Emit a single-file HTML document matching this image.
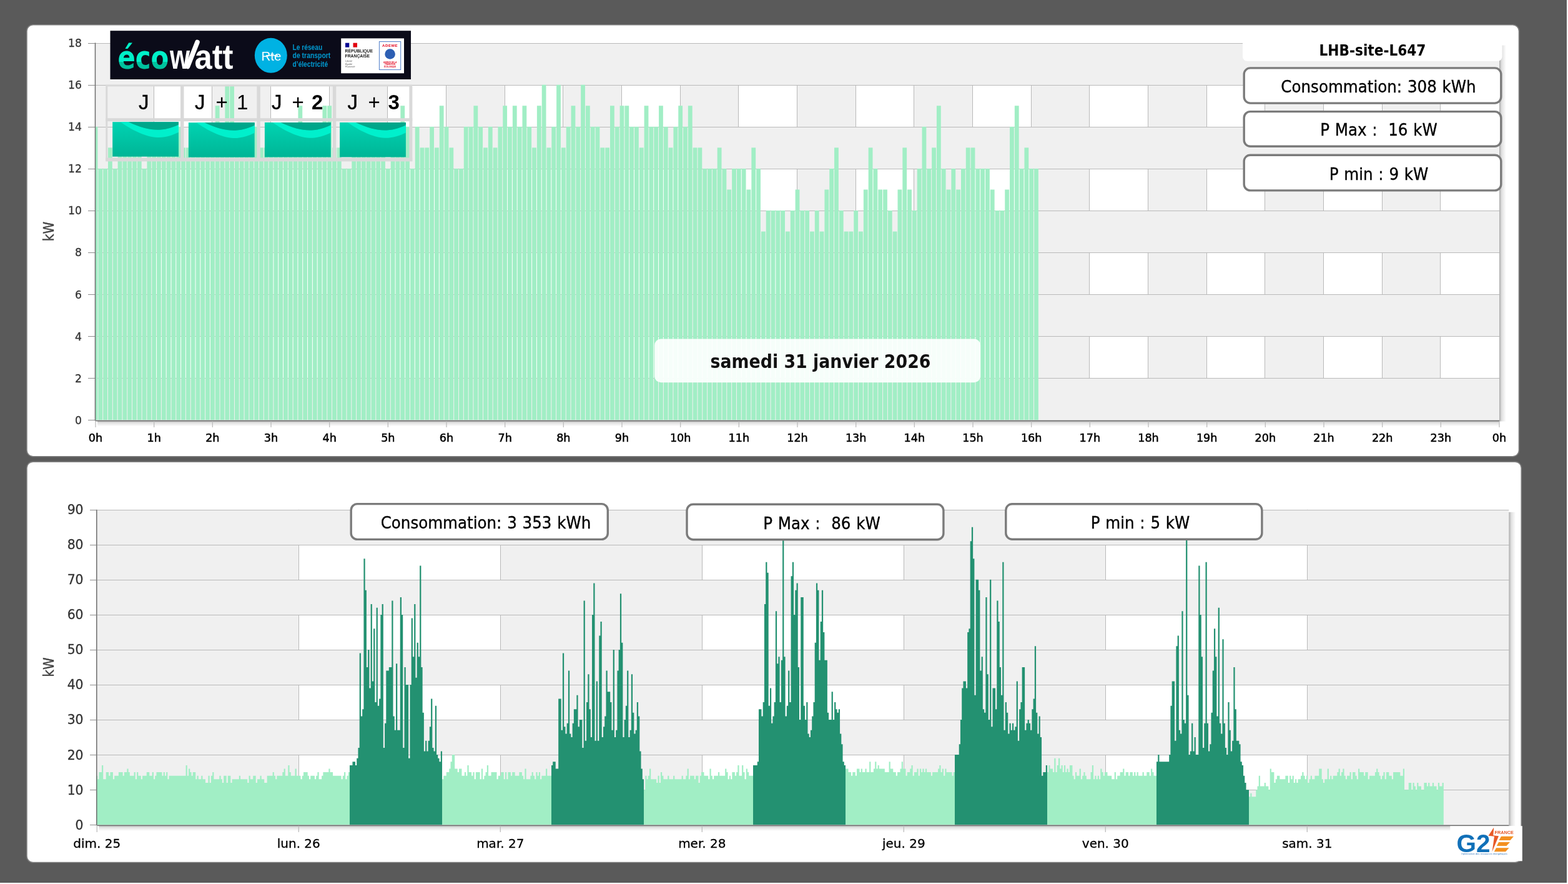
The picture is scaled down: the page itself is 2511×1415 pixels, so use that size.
<!DOCTYPE html>
<html lang="fr"><head><meta charset="utf-8"><title>Consommation LHB-site-L647</title>
<style>html,body{margin:0;padding:0;background:#fff;}body{width:2511px;height:1415px;overflow:hidden;position:relative;}</style>
</head><body>
<svg width="2511" height="1415" viewBox="0 0 2511 1415" style="position:absolute;left:0;top:0"><defs>
<linearGradient id="sig" x1="0" y1="0" x2="0" y2="1"><stop offset="0" stop-color="#00d3b2"/><stop offset="1" stop-color="#00b596"/></linearGradient>
<linearGradient id="eco" x1="0" y1="0" x2="0" y2="1"><stop offset="0.62" stop-color="#00f0c8"/><stop offset="0.62" stop-color="#00c29e"/></linearGradient>
<linearGradient id="shR" x1="0" y1="0" x2="1" y2="0"><stop offset="0" stop-color="#000" stop-opacity="0.33"/><stop offset="0.35" stop-color="#000" stop-opacity="0.12"/><stop offset="1" stop-color="#000" stop-opacity="0"/></linearGradient>
<linearGradient id="shB" x1="0" y1="0" x2="0" y2="1"><stop offset="0" stop-color="#000" stop-opacity="0.33"/><stop offset="0.35" stop-color="#000" stop-opacity="0.12"/><stop offset="1" stop-color="#000" stop-opacity="0"/></linearGradient>
<clipPath id="tclip"><rect x="153" y="68.6" width="2248" height="603.9"/></clipPath>
</defs><rect x="0" y="0" width="2511" height="1415" fill="#ffffff"/><rect x="0" y="0" width="2509" height="1413" fill="#5a5a5a"/><rect x="42.9" y="39.7" width="2389.6" height="691.0" rx="10" fill="#ffffff" stroke="#7d7d7d" stroke-width="1.6"/><rect x="42.9" y="739.1" width="2393.4" height="641.4" rx="10" fill="#ffffff" stroke="#7d7d7d" stroke-width="1.6"/><g shape-rendering="crispEdges"><rect x="153" y="68.6" width="93.67" height="603.9" fill="#f0f0f0"/><rect x="340.33" y="68.6" width="93.67" height="603.9" fill="#f0f0f0"/><rect x="527.67" y="68.6" width="93.67" height="603.9" fill="#f0f0f0"/><rect x="715" y="68.6" width="93.67" height="603.9" fill="#f0f0f0"/><rect x="902.33" y="68.6" width="93.67" height="603.9" fill="#f0f0f0"/><rect x="1089.67" y="68.6" width="93.67" height="603.9" fill="#f0f0f0"/><rect x="1277" y="68.6" width="93.67" height="603.9" fill="#f0f0f0"/><rect x="1464.33" y="68.6" width="93.67" height="603.9" fill="#f0f0f0"/><rect x="1651.67" y="68.6" width="93.67" height="603.9" fill="#f0f0f0"/><rect x="1839" y="68.6" width="93.67" height="603.9" fill="#f0f0f0"/><rect x="2026.33" y="68.6" width="93.67" height="603.9" fill="#f0f0f0"/><rect x="2213.67" y="68.6" width="93.67" height="603.9" fill="#f0f0f0"/></g><g stroke="#b9b9b9" stroke-width="1"><line x1="246.5" y1="69.6" x2="246.5" y2="672.5"/><line x1="339.5" y1="69.6" x2="339.5" y2="672.5"/><line x1="433.5" y1="69.6" x2="433.5" y2="672.5"/><line x1="527.5" y1="69.6" x2="527.5" y2="672.5"/><line x1="620.5" y1="69.6" x2="620.5" y2="672.5"/><line x1="714.5" y1="69.6" x2="714.5" y2="672.5"/><line x1="808.5" y1="69.6" x2="808.5" y2="672.5"/><line x1="901.5" y1="69.6" x2="901.5" y2="672.5"/><line x1="995.5" y1="69.6" x2="995.5" y2="672.5"/><line x1="1089.5" y1="69.6" x2="1089.5" y2="672.5"/><line x1="1182.5" y1="69.6" x2="1182.5" y2="672.5"/><line x1="1276.5" y1="69.6" x2="1276.5" y2="672.5"/><line x1="1370.5" y1="69.6" x2="1370.5" y2="672.5"/><line x1="1463.5" y1="69.6" x2="1463.5" y2="672.5"/><line x1="1557.5" y1="69.6" x2="1557.5" y2="672.5"/><line x1="1651.5" y1="69.6" x2="1651.5" y2="672.5"/><line x1="1744.5" y1="69.6" x2="1744.5" y2="672.5"/><line x1="1838.5" y1="69.6" x2="1838.5" y2="672.5"/><line x1="1932.5" y1="69.6" x2="1932.5" y2="672.5"/><line x1="2025.5" y1="69.6" x2="2025.5" y2="672.5"/><line x1="2119.5" y1="69.6" x2="2119.5" y2="672.5"/><line x1="2213.5" y1="69.6" x2="2213.5" y2="672.5"/><line x1="2306.5" y1="69.6" x2="2306.5" y2="672.5"/></g><g shape-rendering="crispEdges"><rect x="153" y="605.4" width="2248" height="67.1" fill="#f0f0f0"/><rect x="153" y="471.2" width="2248" height="67.1" fill="#f0f0f0"/><rect x="153" y="337" width="2248" height="67.1" fill="#f0f0f0"/><rect x="153" y="202.8" width="2248" height="67.1" fill="#f0f0f0"/><rect x="153" y="68.6" width="2248" height="67.1" fill="#f0f0f0"/></g><g stroke="#b9b9b9" stroke-width="1"><line x1="153" y1="605.5" x2="2401" y2="605.5"/><line x1="153" y1="538.5" x2="2401" y2="538.5"/><line x1="153" y1="471.5" x2="2401" y2="471.5"/><line x1="153" y1="404.5" x2="2401" y2="404.5"/><line x1="153" y1="337.5" x2="2401" y2="337.5"/><line x1="153" y1="270.5" x2="2401" y2="270.5"/><line x1="153" y1="203.5" x2="2401" y2="203.5"/><line x1="153" y1="136.5" x2="2401" y2="136.5"/><line x1="153" y1="69.5" x2="2401" y2="69.5"/></g><g fill="#a1eec5" clip-path="url(#tclip)"><rect x="149.6" y="202.8" width="6.81" height="469.7"/><rect x="157.4" y="269.9" width="6.81" height="402.6"/><rect x="165.21" y="269.9" width="6.81" height="402.6"/><rect x="173.01" y="236.35" width="6.81" height="436.15"/><rect x="180.82" y="269.9" width="6.81" height="402.6"/><rect x="188.62" y="236.35" width="6.81" height="436.15"/><rect x="196.43" y="236.35" width="6.81" height="436.15"/><rect x="204.24" y="236.35" width="6.81" height="436.15"/><rect x="212.04" y="236.35" width="6.81" height="436.15"/><rect x="219.85" y="236.35" width="6.81" height="436.15"/><rect x="227.65" y="269.9" width="6.81" height="402.6"/><rect x="235.46" y="236.35" width="6.81" height="436.15"/><rect x="243.26" y="236.35" width="6.81" height="436.15"/><rect x="251.07" y="202.8" width="6.81" height="469.7"/><rect x="258.88" y="236.35" width="6.81" height="436.15"/><rect x="266.68" y="236.35" width="6.81" height="436.15"/><rect x="274.49" y="236.35" width="6.81" height="436.15"/><rect x="282.29" y="202.8" width="6.81" height="469.7"/><rect x="290.1" y="236.35" width="6.81" height="436.15"/><rect x="297.9" y="236.35" width="6.81" height="436.15"/><rect x="305.71" y="236.35" width="6.81" height="436.15"/><rect x="313.51" y="236.35" width="6.81" height="436.15"/><rect x="321.32" y="236.35" width="6.81" height="436.15"/><rect x="329.13" y="236.35" width="6.81" height="436.15"/><rect x="336.93" y="236.35" width="6.81" height="436.15"/><rect x="344.74" y="169.25" width="6.81" height="503.25"/><rect x="352.54" y="202.8" width="6.81" height="469.7"/><rect x="360.35" y="135.7" width="6.81" height="536.8"/><rect x="368.15" y="135.7" width="6.81" height="536.8"/><rect x="375.96" y="236.35" width="6.81" height="436.15"/><rect x="383.76" y="202.8" width="6.81" height="469.7"/><rect x="391.57" y="236.35" width="6.81" height="436.15"/><rect x="399.38" y="236.35" width="6.81" height="436.15"/><rect x="407.18" y="202.8" width="6.81" height="469.7"/><rect x="414.99" y="236.35" width="6.81" height="436.15"/><rect x="422.79" y="236.35" width="6.81" height="436.15"/><rect x="430.6" y="236.35" width="6.81" height="436.15"/><rect x="438.4" y="202.8" width="6.81" height="469.7"/><rect x="446.21" y="236.35" width="6.81" height="436.15"/><rect x="454.01" y="236.35" width="6.81" height="436.15"/><rect x="461.82" y="236.35" width="6.81" height="436.15"/><rect x="469.63" y="236.35" width="6.81" height="436.15"/><rect x="477.43" y="169.25" width="6.81" height="503.25"/><rect x="485.24" y="236.35" width="6.81" height="436.15"/><rect x="493.04" y="236.35" width="6.81" height="436.15"/><rect x="500.85" y="236.35" width="6.81" height="436.15"/><rect x="508.65" y="236.35" width="6.81" height="436.15"/><rect x="516.46" y="169.25" width="6.81" height="503.25"/><rect x="524.26" y="169.25" width="6.81" height="503.25"/><rect x="532.07" y="236.35" width="6.81" height="436.15"/><rect x="539.88" y="236.35" width="6.81" height="436.15"/><rect x="547.68" y="269.9" width="6.81" height="402.6"/><rect x="555.49" y="269.9" width="6.81" height="402.6"/><rect x="563.29" y="236.35" width="6.81" height="436.15"/><rect x="571.1" y="236.35" width="6.81" height="436.15"/><rect x="578.9" y="236.35" width="6.81" height="436.15"/><rect x="586.71" y="236.35" width="6.81" height="436.15"/><rect x="594.51" y="236.35" width="6.81" height="436.15"/><rect x="602.32" y="236.35" width="6.81" height="436.15"/><rect x="610.12" y="236.35" width="6.81" height="436.15"/><rect x="617.93" y="269.9" width="6.81" height="402.6"/><rect x="625.74" y="236.35" width="6.81" height="436.15"/><rect x="633.54" y="236.35" width="6.81" height="436.15"/><rect x="641.35" y="169.25" width="6.81" height="503.25"/><rect x="649.15" y="202.8" width="6.81" height="469.7"/><rect x="656.96" y="269.9" width="6.81" height="402.6"/><rect x="664.76" y="202.8" width="6.81" height="469.7"/><rect x="672.57" y="236.35" width="6.81" height="436.15"/><rect x="680.38" y="236.35" width="6.81" height="436.15"/><rect x="688.18" y="202.8" width="6.81" height="469.7"/><rect x="695.99" y="236.35" width="6.81" height="436.15"/><rect x="703.79" y="169.25" width="6.81" height="503.25"/><rect x="711.6" y="202.8" width="6.81" height="469.7"/><rect x="719.4" y="236.35" width="6.81" height="436.15"/><rect x="727.21" y="269.9" width="6.81" height="402.6"/><rect x="735.01" y="269.9" width="6.81" height="402.6"/><rect x="742.82" y="202.8" width="6.81" height="469.7"/><rect x="750.62" y="202.8" width="6.81" height="469.7"/><rect x="758.43" y="169.25" width="6.81" height="503.25"/><rect x="766.24" y="202.8" width="6.81" height="469.7"/><rect x="774.04" y="236.35" width="6.81" height="436.15"/><rect x="781.85" y="202.8" width="6.81" height="469.7"/><rect x="789.65" y="236.35" width="6.81" height="436.15"/><rect x="797.46" y="202.8" width="6.81" height="469.7"/><rect x="805.26" y="169.25" width="6.81" height="503.25"/><rect x="813.07" y="202.8" width="6.81" height="469.7"/><rect x="820.88" y="169.25" width="6.81" height="503.25"/><rect x="828.68" y="202.8" width="6.81" height="469.7"/><rect x="836.49" y="169.25" width="6.81" height="503.25"/><rect x="844.29" y="202.8" width="6.81" height="469.7"/><rect x="852.1" y="236.35" width="6.81" height="436.15"/><rect x="859.9" y="169.25" width="6.81" height="503.25"/><rect x="867.71" y="135.7" width="6.81" height="536.8"/><rect x="875.51" y="236.35" width="6.81" height="436.15"/><rect x="883.32" y="202.8" width="6.81" height="469.7"/><rect x="891.12" y="135.7" width="6.81" height="536.8"/><rect x="898.93" y="236.35" width="6.81" height="436.15"/><rect x="906.74" y="202.8" width="6.81" height="469.7"/><rect x="914.54" y="169.25" width="6.81" height="503.25"/><rect x="922.35" y="202.8" width="6.81" height="469.7"/><rect x="930.15" y="135.7" width="6.81" height="536.8"/><rect x="937.96" y="169.25" width="6.81" height="503.25"/><rect x="945.76" y="202.8" width="6.81" height="469.7"/><rect x="953.57" y="202.8" width="6.81" height="469.7"/><rect x="961.38" y="236.35" width="6.81" height="436.15"/><rect x="969.18" y="236.35" width="6.81" height="436.15"/><rect x="976.99" y="169.25" width="6.81" height="503.25"/><rect x="984.79" y="202.8" width="6.81" height="469.7"/><rect x="992.6" y="169.25" width="6.81" height="503.25"/><rect x="1000.4" y="169.25" width="6.81" height="503.25"/><rect x="1008.21" y="202.8" width="6.81" height="469.7"/><rect x="1016.01" y="202.8" width="6.81" height="469.7"/><rect x="1023.82" y="236.35" width="6.81" height="436.15"/><rect x="1031.62" y="169.25" width="6.81" height="503.25"/><rect x="1039.43" y="202.8" width="6.81" height="469.7"/><rect x="1047.24" y="202.8" width="6.81" height="469.7"/><rect x="1055.04" y="169.25" width="6.81" height="503.25"/><rect x="1062.85" y="202.8" width="6.81" height="469.7"/><rect x="1070.65" y="236.35" width="6.81" height="436.15"/><rect x="1078.46" y="202.8" width="6.81" height="469.7"/><rect x="1086.26" y="169.25" width="6.81" height="503.25"/><rect x="1094.07" y="202.8" width="6.81" height="469.7"/><rect x="1101.88" y="169.25" width="6.81" height="503.25"/><rect x="1109.68" y="236.35" width="6.81" height="436.15"/><rect x="1117.49" y="236.35" width="6.81" height="436.15"/><rect x="1125.29" y="269.9" width="6.81" height="402.6"/><rect x="1133.1" y="269.9" width="6.81" height="402.6"/><rect x="1140.9" y="269.9" width="6.81" height="402.6"/><rect x="1148.71" y="236.35" width="6.81" height="436.15"/><rect x="1156.51" y="269.9" width="6.81" height="402.6"/><rect x="1164.32" y="303.45" width="6.81" height="369.05"/><rect x="1172.12" y="269.9" width="6.81" height="402.6"/><rect x="1179.93" y="269.9" width="6.81" height="402.6"/><rect x="1187.74" y="269.9" width="6.81" height="402.6"/><rect x="1195.54" y="303.45" width="6.81" height="369.05"/><rect x="1203.35" y="236.35" width="6.81" height="436.15"/><rect x="1211.15" y="269.9" width="6.81" height="402.6"/><rect x="1218.96" y="370.55" width="6.81" height="301.95"/><rect x="1226.76" y="337" width="6.81" height="335.5"/><rect x="1234.57" y="337" width="6.81" height="335.5"/><rect x="1242.38" y="337" width="6.81" height="335.5"/><rect x="1250.18" y="337" width="6.81" height="335.5"/><rect x="1257.99" y="370.55" width="6.81" height="301.95"/><rect x="1265.79" y="337" width="6.81" height="335.5"/><rect x="1273.6" y="303.45" width="6.81" height="369.05"/><rect x="1281.4" y="337" width="6.81" height="335.5"/><rect x="1289.21" y="337" width="6.81" height="335.5"/><rect x="1297.01" y="370.55" width="6.81" height="301.95"/><rect x="1304.82" y="337" width="6.81" height="335.5"/><rect x="1312.62" y="370.55" width="6.81" height="301.95"/><rect x="1320.43" y="303.45" width="6.81" height="369.05"/><rect x="1328.24" y="269.9" width="6.81" height="402.6"/><rect x="1336.04" y="236.35" width="6.81" height="436.15"/><rect x="1343.85" y="337" width="6.81" height="335.5"/><rect x="1351.65" y="370.55" width="6.81" height="301.95"/><rect x="1359.46" y="370.55" width="6.81" height="301.95"/><rect x="1367.26" y="337" width="6.81" height="335.5"/><rect x="1375.07" y="370.55" width="6.81" height="301.95"/><rect x="1382.88" y="303.45" width="6.81" height="369.05"/><rect x="1390.68" y="236.35" width="6.81" height="436.15"/><rect x="1398.49" y="269.9" width="6.81" height="402.6"/><rect x="1406.29" y="303.45" width="6.81" height="369.05"/><rect x="1414.1" y="303.45" width="6.81" height="369.05"/><rect x="1421.9" y="337" width="6.81" height="335.5"/><rect x="1429.71" y="370.55" width="6.81" height="301.95"/><rect x="1437.51" y="303.45" width="6.81" height="369.05"/><rect x="1445.32" y="236.35" width="6.81" height="436.15"/><rect x="1453.12" y="303.45" width="6.81" height="369.05"/><rect x="1460.93" y="337" width="6.81" height="335.5"/><rect x="1468.74" y="269.9" width="6.81" height="402.6"/><rect x="1476.54" y="202.8" width="6.81" height="469.7"/><rect x="1484.35" y="269.9" width="6.81" height="402.6"/><rect x="1492.15" y="236.35" width="6.81" height="436.15"/><rect x="1499.96" y="169.25" width="6.81" height="503.25"/><rect x="1507.76" y="269.9" width="6.81" height="402.6"/><rect x="1515.57" y="303.45" width="6.81" height="369.05"/><rect x="1523.38" y="269.9" width="6.81" height="402.6"/><rect x="1531.18" y="303.45" width="6.81" height="369.05"/><rect x="1538.99" y="269.9" width="6.81" height="402.6"/><rect x="1546.79" y="236.35" width="6.81" height="436.15"/><rect x="1554.6" y="236.35" width="6.81" height="436.15"/><rect x="1562.4" y="269.9" width="6.81" height="402.6"/><rect x="1570.21" y="269.9" width="6.81" height="402.6"/><rect x="1578.01" y="269.9" width="6.81" height="402.6"/><rect x="1585.82" y="303.45" width="6.81" height="369.05"/><rect x="1593.62" y="337" width="6.81" height="335.5"/><rect x="1601.43" y="337" width="6.81" height="335.5"/><rect x="1609.24" y="303.45" width="6.81" height="369.05"/><rect x="1617.04" y="202.8" width="6.81" height="469.7"/><rect x="1624.85" y="169.25" width="6.81" height="503.25"/><rect x="1632.65" y="269.9" width="6.81" height="402.6"/><rect x="1640.46" y="236.35" width="6.81" height="436.15"/><rect x="1648.26" y="269.9" width="6.81" height="402.6"/><rect x="1656.07" y="269.9" width="6.81" height="402.6"/></g><rect x="2401" y="72.6" width="11" height="601.9" fill="url(#shR)"/><rect x="156" y="673.5" width="2245" height="9" fill="url(#shB)"/><line x1="152.5" y1="68.6" x2="152.5" y2="673.5" stroke="#6b6b6b" stroke-width="1.5"/><line x1="153" y1="673.5" x2="2401" y2="673.5" stroke="#6b6b6b" stroke-width="1.5"/><g stroke="#bdbdbd" stroke-width="1.3"><line x1="153" y1="674" x2="153" y2="684"/><line x1="246.67" y1="674" x2="246.67" y2="684"/><line x1="340.33" y1="674" x2="340.33" y2="684"/><line x1="434" y1="674" x2="434" y2="684"/><line x1="527.67" y1="674" x2="527.67" y2="684"/><line x1="621.33" y1="674" x2="621.33" y2="684"/><line x1="715" y1="674" x2="715" y2="684"/><line x1="808.67" y1="674" x2="808.67" y2="684"/><line x1="902.33" y1="674" x2="902.33" y2="684"/><line x1="996" y1="674" x2="996" y2="684"/><line x1="1089.67" y1="674" x2="1089.67" y2="684"/><line x1="1183.33" y1="674" x2="1183.33" y2="684"/><line x1="1277" y1="674" x2="1277" y2="684"/><line x1="1370.67" y1="674" x2="1370.67" y2="684"/><line x1="1464.33" y1="674" x2="1464.33" y2="684"/><line x1="1558" y1="674" x2="1558" y2="684"/><line x1="1651.67" y1="674" x2="1651.67" y2="684"/><line x1="1745.33" y1="674" x2="1745.33" y2="684"/><line x1="1839" y1="674" x2="1839" y2="684"/><line x1="1932.67" y1="674" x2="1932.67" y2="684"/><line x1="2026.33" y1="674" x2="2026.33" y2="684"/><line x1="2120" y1="674" x2="2120" y2="684"/><line x1="2213.67" y1="674" x2="2213.67" y2="684"/><line x1="2307.33" y1="674" x2="2307.33" y2="684"/><line x1="2401" y1="674" x2="2401" y2="684"/></g><g stroke="#8c8c8c" stroke-width="1"><line x1="141" y1="672.5" x2="152" y2="672.5"/><line x1="141" y1="605.5" x2="152" y2="605.5"/><line x1="141" y1="538.5" x2="152" y2="538.5"/><line x1="141" y1="471.5" x2="152" y2="471.5"/><line x1="141" y1="404.5" x2="152" y2="404.5"/><line x1="141" y1="337.5" x2="152" y2="337.5"/><line x1="141" y1="270.5" x2="152" y2="270.5"/><line x1="141" y1="203.5" x2="152" y2="203.5"/><line x1="141" y1="136.5" x2="152" y2="136.5"/><line x1="141" y1="69.5" x2="152" y2="69.5"/></g><g font-family="DejaVu Sans, sans-serif" font-size="17.3" fill="#333" stroke="#333" stroke-width="0.3" text-anchor="end"><text x="131" y="678.8">0</text><text x="131" y="611.7">2</text><text x="131" y="544.6">4</text><text x="131" y="477.5">6</text><text x="131" y="410.4">8</text><text x="131" y="343.3">10</text><text x="131" y="276.2">12</text><text x="131" y="209.1">14</text><text x="131" y="142">16</text><text x="131" y="74.9">18</text></g><g font-family="DejaVu Sans, sans-serif" font-size="17.6" fill="#000" stroke="#000" stroke-width="0.55" text-anchor="middle"><text x="153" y="707">0h</text><text x="246.67" y="707">1h</text><text x="340.33" y="707">2h</text><text x="434" y="707">3h</text><text x="527.67" y="707">4h</text><text x="621.33" y="707">5h</text><text x="715" y="707">6h</text><text x="808.67" y="707">7h</text><text x="902.33" y="707">8h</text><text x="996" y="707">9h</text><text x="1089.67" y="707">10h</text><text x="1183.33" y="707">11h</text><text x="1277" y="707">12h</text><text x="1370.67" y="707">13h</text><text x="1464.33" y="707">14h</text><text x="1558" y="707">15h</text><text x="1651.67" y="707">16h</text><text x="1745.33" y="707">17h</text><text x="1839" y="707">18h</text><text x="1932.67" y="707">19h</text><text x="2026.33" y="707">20h</text><text x="2120" y="707">21h</text><text x="2213.67" y="707">22h</text><text x="2307.33" y="707">23h</text><text x="2401" y="707">0h</text></g><text transform="translate(86,370.5) rotate(-90)" font-family="DejaVu Sans, sans-serif" font-stretch="condensed" font-size="22.1" fill="#444" stroke="#444" stroke-width="0.4" text-anchor="middle" textLength="31.2" lengthAdjust="spacingAndGlyphs">kW</text><g shape-rendering="crispEdges"><rect x="155.3" y="815.75" width="323" height="504.45" fill="#f0f0f0"/><rect x="801.3" y="815.75" width="323" height="504.45" fill="#f0f0f0"/><rect x="1447.3" y="815.75" width="323" height="504.45" fill="#f0f0f0"/><rect x="2093.3" y="815.75" width="323" height="504.45" fill="#f0f0f0"/></g><g stroke="#b9b9b9" stroke-width="1"><line x1="478.5" y1="815.75" x2="478.5" y2="1320.2"/><line x1="801.5" y1="815.75" x2="801.5" y2="1320.2"/><line x1="1124.5" y1="815.75" x2="1124.5" y2="1320.2"/><line x1="1447.5" y1="815.75" x2="1447.5" y2="1320.2"/><line x1="1770.5" y1="815.75" x2="1770.5" y2="1320.2"/><line x1="2093.5" y1="815.75" x2="2093.5" y2="1320.2"/></g><g shape-rendering="crispEdges"><rect x="155.3" y="1264.15" width="2261" height="56.05" fill="#f0f0f0"/><rect x="155.3" y="1152.05" width="2261" height="56.05" fill="#f0f0f0"/><rect x="155.3" y="1039.95" width="2261" height="56.05" fill="#f0f0f0"/><rect x="155.3" y="927.85" width="2261" height="56.05" fill="#f0f0f0"/><rect x="155.3" y="815.75" width="2261" height="56.05" fill="#f0f0f0"/></g><g stroke="#b9b9b9" stroke-width="1"><line x1="155.3" y1="1264.5" x2="2416.3" y2="1264.5"/><line x1="155.3" y1="1208.5" x2="2416.3" y2="1208.5"/><line x1="155.3" y1="1152.5" x2="2416.3" y2="1152.5"/><line x1="155.3" y1="1096.5" x2="2416.3" y2="1096.5"/><line x1="155.3" y1="1040.5" x2="2416.3" y2="1040.5"/><line x1="155.3" y1="984.5" x2="2416.3" y2="984.5"/><line x1="155.3" y1="928.5" x2="2416.3" y2="928.5"/><line x1="155.3" y1="872.5" x2="2416.3" y2="872.5"/><line x1="155.3" y1="816.5" x2="2416.3" y2="816.5"/></g><path d="M154,1320.2V1241.73H156.24V1247.34H158.49V1236.12H160.73V1236.12H162.97V1224.91H165.22V1247.34H167.46V1247.34H169.7V1236.12H171.94V1236.12H174.19V1241.73H176.43V1236.12H178.67V1236.12H180.92V1247.34H183.16V1241.73H185.4V1241.73H187.65V1241.73H189.89V1236.12H192.13V1236.12H194.38V1236.12H196.62V1241.73H198.86V1236.12H201.1V1236.12H203.35V1230.52H205.59V1236.12H207.83V1241.73H210.08V1241.73H212.32V1241.73H214.56V1236.12H216.81V1247.34H219.05V1236.12H221.29V1241.73H223.53V1241.73H225.78V1247.34H228.02V1241.73H230.26V1241.73H232.51V1241.73H234.75V1236.12H236.99V1236.12H239.24V1241.73H241.48V1241.73H243.72V1236.12H245.97V1247.34H248.21V1241.73H250.45V1236.12H252.69V1236.12H254.94V1236.12H257.18V1236.12H259.42V1241.73H261.67V1236.12H263.91V1241.73H266.15V1236.12H268.4V1247.34H270.64V1241.73H272.88V1241.73H275.12V1241.73H277.37V1241.73H279.61V1241.73H281.85V1241.73H284.1V1241.73H286.34V1241.73H288.58V1241.73H290.83V1241.73H293.07V1241.73H295.31V1241.73H297.56V1224.91H299.8V1241.73H302.04V1230.52H304.28V1236.12H306.53V1241.73H308.77V1236.12H311.01V1236.12H313.26V1247.34H315.5V1241.73H317.74V1247.34H319.99V1247.34H322.23V1241.73H324.47V1247.34H326.72V1247.34H328.96V1252.94H331.2V1252.94H333.44V1241.73H335.69V1252.94H337.93V1241.73H340.17V1236.12H342.42V1247.34H344.66V1247.34H346.9V1247.34H349.15V1247.34H351.39V1241.73H353.63V1247.34H355.88V1252.94H358.12V1241.73H360.36V1241.73H362.6V1252.94H364.85V1241.73H367.09V1241.73H369.33V1252.94H371.58V1247.34H373.82V1247.34H376.06V1247.34H378.31V1247.34H380.55V1247.34H382.79V1241.73H385.03V1247.34H387.28V1247.34H389.52V1247.34H391.76V1247.34H394.01V1247.34H396.25V1252.94H398.49V1241.73H400.74V1247.34H402.98V1247.34H405.22V1241.73H407.47V1241.73H409.71V1252.94H411.95V1247.34H414.19V1247.34H416.44V1241.73H418.68V1247.34H420.92V1247.34H423.17V1252.94H425.41V1252.94H427.65V1241.73H429.9V1241.73H432.14V1241.73H434.38V1241.73H436.62V1236.12H438.87V1241.73H441.11V1247.34H443.35V1241.73H445.6V1241.73H447.84V1241.73H450.08V1241.73H452.33V1236.12H454.57V1230.52H456.81V1241.73H459.06V1241.73H461.3V1224.91H463.54V1236.12H465.78V1241.73H468.03V1241.73H470.27V1241.73H472.51V1230.52H474.76V1241.73H477V1241.73H479.24V1241.73H481.49V1247.34H483.73V1241.73H485.97V1236.12H488.22V1236.12H490.46V1236.12H492.7V1241.73H494.94V1247.34H497.19V1241.73H499.43V1241.73H501.67V1241.73H503.92V1247.34H506.16V1241.73H508.4V1236.12H510.65V1247.34H512.89V1247.34H515.13V1241.73H517.38V1236.12H519.62V1236.12H521.86V1236.12H524.1V1236.12H526.35V1230.52H528.59V1236.12H530.83V1236.12H533.08V1241.73H535.32V1241.73H537.56V1241.73H539.81V1241.73H542.05V1241.73H544.29V1241.73H546.53V1247.34H548.78V1241.73H551.02V1236.12H553.26V1247.34H555.51V1241.73H557.75V1236.12H559.99V1320.2ZM708.03,1320.2V1247.34H710.28V1241.73H712.52V1241.73H714.76V1236.12H717.01V1236.12H719.25V1230.52H721.49V1219.31H723.74V1208.1H725.98V1208.1H728.22V1230.52H730.47V1230.52H732.71V1236.12H734.95V1230.52H737.19V1230.52H739.44V1241.73H741.68V1241.73H743.92V1236.12H746.17V1241.73H748.41V1224.91H750.65V1236.12H752.9V1236.12H755.14V1241.73H757.38V1236.12H759.62V1247.34H761.87V1236.12H764.11V1236.12H766.35V1236.12H768.6V1247.34H770.84V1230.52H773.08V1247.34H775.33V1241.73H777.57V1236.12H779.81V1224.91H782.06V1241.73H784.3V1241.73H786.54V1236.12H788.78V1236.12H791.03V1236.12H793.27V1236.12H795.51V1247.34H797.76V1241.73H800V1241.73H802.24V1236.12H804.49V1236.12H806.73V1247.34H808.97V1236.12H811.22V1247.34H813.46V1236.12H815.7V1236.12H817.94V1241.73H820.19V1236.12H822.43V1236.12H824.67V1241.73H826.92V1241.73H829.16V1241.73H831.4V1236.12H833.65V1236.12H835.89V1241.73H838.13V1247.34H840.37V1230.52H842.62V1247.34H844.86V1247.34H847.1V1247.34H849.35V1241.73H851.59V1236.12H853.83V1241.73H856.08V1247.34H858.32V1236.12H860.56V1241.73H862.81V1236.12H865.05V1247.34H867.29V1241.73H869.53V1241.73H871.78V1241.73H874.02V1230.52H876.26V1241.73H878.51V1241.73H880.75V1241.73H882.99V1320.2ZM1031.03,1320.2V1264.15H1033.28V1241.73H1035.52V1247.34H1037.76V1241.73H1040.01V1230.52H1042.25V1247.34H1044.49V1247.34H1046.74V1247.34H1048.98V1247.34H1051.22V1252.94H1053.47V1241.73H1055.71V1252.94H1057.95V1236.12H1060.19V1241.73H1062.44V1247.34H1064.68V1247.34H1066.92V1247.34H1069.17V1241.73H1071.41V1247.34H1073.65V1247.34H1075.9V1247.34H1078.14V1241.73H1080.38V1247.34H1082.62V1247.34H1084.87V1247.34H1087.11V1247.34H1089.35V1247.34H1091.6V1241.73H1093.84V1247.34H1096.08V1247.34H1098.33V1241.73H1100.57V1230.52H1102.81V1247.34H1105.06V1241.73H1107.3V1241.73H1109.54V1241.73H1111.78V1247.34H1114.03V1241.73H1116.27V1241.73H1118.51V1252.94H1120.76V1241.73H1123V1236.12H1125.24V1236.12H1127.49V1241.73H1129.73V1241.73H1131.97V1241.73H1134.22V1247.34H1136.46V1230.52H1138.7V1241.73H1140.94V1247.34H1143.19V1241.73H1145.43V1241.73H1147.67V1241.73H1149.92V1236.12H1152.16V1241.73H1154.4V1241.73H1156.65V1241.73H1158.89V1241.73H1161.13V1230.52H1163.38V1236.12H1165.62V1247.34H1167.86V1241.73H1170.1V1247.34H1172.35V1236.12H1174.59V1236.12H1176.83V1241.73H1179.08V1236.12H1181.32V1224.91H1183.56V1241.73H1185.81V1241.73H1188.05V1224.91H1190.29V1236.12H1192.53V1247.34H1194.78V1230.52H1197.02V1236.12H1199.26V1241.73H1201.51V1241.73H1203.75V1241.73H1205.99V1320.2ZM1354.03,1320.2V1230.52H1356.28V1230.52H1358.52V1236.12H1360.76V1236.12H1363.01V1241.73H1365.25V1236.12H1367.49V1236.12H1369.74V1241.73H1371.98V1230.52H1374.22V1230.52H1376.47V1236.12H1378.71V1230.52H1380.95V1236.12H1383.19V1236.12H1385.44V1230.52H1387.68V1236.12H1389.92V1236.12H1392.17V1219.31H1394.41V1236.12H1396.65V1236.12H1398.9V1230.52H1401.14V1219.31H1403.38V1230.52H1405.62V1224.91H1407.87V1230.52H1410.11V1230.52H1412.35V1230.52H1414.6V1230.52H1416.84V1236.12H1419.08V1236.12H1421.33V1236.12H1423.57V1219.31H1425.81V1230.52H1428.06V1230.52H1430.3V1236.12H1432.54V1236.12H1434.78V1241.73H1437.03V1236.12H1439.27V1236.12H1441.51V1230.52H1443.76V1219.31H1446V1230.52H1448.24V1230.52H1450.49V1241.73H1452.73V1236.12H1454.97V1236.12H1457.22V1230.52H1459.46V1224.91H1461.7V1241.73H1463.94V1236.12H1466.19V1236.12H1468.43V1230.52H1470.67V1241.73H1472.92V1230.52H1475.16V1236.12H1477.4V1230.52H1479.65V1236.12H1481.89V1230.52H1484.13V1236.12H1486.37V1236.12H1488.62V1236.12H1490.86V1241.73H1493.1V1236.12H1495.35V1236.12H1497.59V1236.12H1499.83V1236.12H1502.08V1230.52H1504.32V1224.91H1506.56V1236.12H1508.81V1230.52H1511.05V1241.73H1513.29V1230.52H1515.53V1236.12H1517.78V1236.12H1520.02V1236.12H1522.26V1236.12H1524.51V1241.73H1526.75V1236.12H1528.99V1320.2ZM1677.03,1320.2V1236.12H1679.28V1224.91H1681.52V1230.52H1683.76V1230.52H1686.01V1236.12H1688.25V1213.7H1690.49V1236.12H1692.74V1224.91H1694.98V1213.7H1697.22V1230.52H1699.47V1224.91H1701.71V1236.12H1703.95V1224.91H1706.19V1236.12H1708.44V1230.52H1710.68V1236.12H1712.92V1224.91H1715.17V1224.91H1717.41V1241.73H1719.65V1247.34H1721.9V1236.12H1724.14V1241.73H1726.38V1241.73H1728.62V1230.52H1730.87V1247.34H1733.11V1241.73H1735.35V1236.12H1737.6V1241.73H1739.84V1247.34H1742.08V1247.34H1744.33V1247.34H1746.57V1236.12H1748.81V1224.91H1751.06V1247.34H1753.3V1241.73H1755.54V1247.34H1757.78V1241.73H1760.03V1247.34H1762.27V1230.52H1764.51V1236.12H1766.76V1241.73H1769V1236.12H1771.24V1236.12H1773.49V1241.73H1775.73V1241.73H1777.97V1241.73H1780.22V1247.34H1782.46V1247.34H1784.7V1236.12H1786.94V1247.34H1789.19V1241.73H1791.43V1241.73H1793.67V1236.12H1795.92V1236.12H1798.16V1230.52H1800.4V1241.73H1802.65V1236.12H1804.89V1236.12H1807.13V1241.73H1809.37V1236.12H1811.62V1236.12H1813.86V1241.73H1816.1V1236.12H1818.35V1241.73H1820.59V1236.12H1822.83V1241.73H1825.08V1241.73H1827.32V1241.73H1829.56V1236.12H1831.81V1241.73H1834.05V1241.73H1836.29V1236.12H1838.53V1236.12H1840.78V1241.73H1843.02V1230.52H1845.26V1236.12H1847.51V1241.73H1849.75V1241.73H1851.99V1320.2ZM2000.03,1320.2V1275.36H2002.28V1269.76H2004.52V1275.36H2006.76V1275.36H2009.01V1275.36H2011.25V1264.15H2013.49V1258.55H2015.74V1241.73H2017.98V1258.55H2020.22V1258.55H2022.47V1258.55H2024.71V1252.94H2026.95V1258.55H2029.19V1258.55H2031.44V1264.15H2033.68V1230.52H2035.92V1236.12H2038.17V1236.12H2040.41V1252.94H2042.65V1247.34H2044.9V1241.73H2047.14V1241.73H2049.38V1247.34H2051.62V1247.34H2053.87V1247.34H2056.11V1247.34H2058.35V1241.73H2060.6V1241.73H2062.84V1252.94H2065.08V1241.73H2067.33V1247.34H2069.57V1241.73H2071.81V1252.94H2074.06V1247.34H2076.3V1252.94H2078.54V1247.34H2080.78V1247.34H2083.03V1241.73H2085.27V1236.12H2087.51V1241.73H2089.76V1247.34H2092V1241.73H2094.24V1252.94H2096.49V1247.34H2098.73V1241.73H2100.97V1247.34H2103.22V1247.34H2105.46V1241.73H2107.7V1241.73H2109.94V1241.73H2112.19V1230.52H2114.43V1230.52H2116.67V1247.34H2118.92V1252.94H2121.16V1247.34H2123.4V1247.34H2125.65V1230.52H2127.89V1247.34H2130.13V1241.73H2132.38V1247.34H2134.62V1241.73H2136.86V1241.73H2139.1V1241.73H2141.35V1236.12H2143.59V1230.52H2145.83V1241.73H2148.08V1236.12H2150.32V1230.52H2152.56V1241.73H2154.81V1247.34H2157.05V1241.73H2159.29V1241.73H2161.53V1236.12H2163.78V1247.34H2166.02V1236.12H2168.26V1236.12H2170.51V1241.73H2172.75V1247.34H2174.99V1230.52H2177.24V1236.12H2179.48V1236.12H2181.72V1236.12H2183.97V1241.73H2186.21V1236.12H2188.45V1236.12H2190.69V1247.34H2192.94V1241.73H2195.18V1241.73H2197.42V1241.73H2199.67V1241.73H2201.91V1236.12H2204.15V1230.52H2206.4V1236.12H2208.64V1241.73H2210.88V1247.34H2213.12V1241.73H2215.37V1236.12H2217.61V1247.34H2219.85V1236.12H2222.1V1236.12H2224.34V1241.73H2226.58V1241.73H2228.83V1247.34H2231.07V1236.12H2233.31V1236.12H2235.56V1236.12H2237.8V1236.12H2240.04V1236.12H2242.28V1241.73H2244.53V1241.73H2246.77V1230.52H2249.01V1264.15H2251.26V1264.15H2253.5V1264.15H2255.74V1252.94H2257.99V1252.94H2260.23V1264.15H2262.47V1252.94H2264.72V1258.55H2266.96V1264.15H2269.2V1252.94H2271.44V1258.55H2273.69V1258.55H2275.93V1264.15H2278.17V1264.15H2280.42V1252.94H2282.66V1252.94H2284.9V1258.55H2287.15V1252.94H2289.39V1258.55H2291.63V1258.55H2293.88V1252.94H2296.12V1258.55H2298.36V1258.55H2300.6V1264.15H2302.85V1252.94H2305.09V1258.55H2307.33V1258.55H2309.58V1252.94H2311.82V1320.2Z" fill="#a1eec5"/><path d="M559.99,1320.2V1224.91H562.24V1224.91H564.48V1219.31H566.72V1219.31H568.97V1224.91H571.21V1213.7H573.45V1196.89H575.69V1045.56H577.94V1146.44H580.18V1135.24H582.42V894.22H584.67V944.66H586.91V1067.97H589.15V1039.95H591.4V1101.61H593.64V967.09H595.88V1090.39H598.12V1006.32H600.37V1124.03H602.61V972.69H604.85V1129.63H607.1V1118.42H609.34V983.9H611.58V967.09H613.83V1196.89H616.07V1157.65H618.31V1073.58H620.56V1073.58H622.8V1067.97H625.04V1067.97H627.28V961.48H629.53V1146.44H631.77V1168.87H634.01V1062.37H636.26V1168.87H638.5V1168.87H640.74V955.88H642.99V983.9H645.23V1196.89H647.47V1067.97H649.72V1096H651.96V1096H654.2V1213.7H656.44V1096H658.69V989.5H660.93V1051.16H663.17V967.09H665.42V1084.79H667.66V1028.74H669.9V1051.16H672.15V905.43H674.39V1067.97H676.63V1140.84H678.88V1202.5H681.12V1185.68H683.36V1202.5H685.6V1185.68H687.85V1163.26H690.09V1118.42H692.33V1196.89H694.58V1202.5H696.82V1129.63H699.06V1208.1H701.31V1213.7H703.55V1219.31H705.79V1202.5H708.03V1320.2ZM882.99,1320.2V1224.91H885.24V1219.31H887.48V1219.31H889.72V1230.52H891.97V1230.52H894.21V1118.42H896.45V1118.42H898.69V1168.87H900.94V1045.56H903.18V1163.26H905.42V1174.47H907.67V1157.65H909.91V1073.58H912.15V1174.47H914.4V1180.08H916.64V1157.65H918.88V1135.24H921.12V1135.24H923.37V1112.82H925.61V1163.26H927.85V1152.05H930.1V1152.05H932.34V1196.89H934.58V961.48H936.83V1185.68H939.07V1124.03H941.31V1079.18H943.56V1135.24H945.8V1180.08H948.04V983.9H950.28V933.46H952.53V1185.68H954.77V1090.39H957.01V1185.68H959.26V1017.53H961.5V995.11H963.74V1180.08H965.99V1163.26H968.23V1146.44H970.47V1073.58H972.72V1107.21H974.96V1107.21H977.2V1124.03H979.44V1168.87H981.69V1039.95H983.93V1180.08H986.17V1168.87H988.42V1073.58H990.66V1039.95H992.9V950.27H995.15V1028.74H997.39V1180.08H999.63V1152.05H1001.87V1129.63H1004.12V1073.58H1006.36V1180.08H1008.6V1168.87H1010.85V1079.18H1013.09V1140.84H1015.33V1174.47H1017.58V1168.87H1019.82V1124.03H1022.06V1146.44H1024.31V1202.5H1026.55V1230.52H1028.79V1247.34H1031.03V1320.2ZM1205.99,1320.2V1224.91H1208.24V1224.91H1210.48V1224.91H1212.72V1219.31H1214.97V1135.24H1217.21V1135.24H1219.45V1146.44H1221.69V1124.03H1223.94V967.09H1226.18V899.83H1228.42V916.64H1230.67V1129.63H1232.91V1101.61H1235.15V1157.65H1237.4V1146.44H1239.64V1124.03H1241.88V978.3H1244.12V1062.37H1246.37V1051.16H1248.61V1124.03H1250.85V1056.77H1253.1V849.38H1255.34V1051.16H1257.58V1146.44H1259.83V1129.63H1262.07V1073.58H1264.31V1124.03H1266.56V922.25H1268.8V899.83H1271.04V983.9H1273.28V944.66H1275.53V933.46H1277.77V1067.97H1280.01V1152.05H1282.26V955.88H1284.5V955.88H1286.74V1129.63H1288.99V1152.05H1291.23V1124.03H1293.47V1174.47H1295.72V1180.08H1297.96V1168.87H1300.2V1146.44H1302.44V1124.03H1304.69V1028.74H1306.93V933.46H1309.17V944.66H1311.42V1056.77H1313.66V995.11H1315.9V944.66H1318.15V1011.92H1320.39V1056.77H1322.63V1056.77H1324.88V1140.84H1327.12V1152.05H1329.36V1152.05H1331.6V1107.21H1333.85V1152.05H1336.09V1124.03H1338.33V1135.24H1340.58V1140.84H1342.82V1135.24H1345.06V1174.47H1347.31V1191.29H1349.55V1219.31H1351.79V1224.91H1354.03V1320.2ZM1528.99,1320.2V1208.1H1531.24V1208.1H1533.48V1208.1H1535.72V1191.29H1537.97V1152.05H1540.21V1101.61H1542.45V1090.39H1544.69V1090.39H1546.94V1101.61H1549.18V1011.92H1551.42V1006.32H1553.67V866.19H1555.91V843.78H1558.15V894.22H1560.4V1112.82H1562.64V927.85H1564.88V927.85H1567.12V944.66H1569.37V1073.58H1571.61V1051.16H1573.85V1135.24H1576.1V1140.84H1578.34V955.88H1580.58V1079.18H1582.83V1152.05H1585.07V927.85H1587.31V1163.26H1589.56V1101.61H1591.8V1101.61H1594.04V1135.24H1596.28V961.48H1598.53V995.11H1600.77V1067.97H1603.01V1112.82H1605.26V899.83H1607.5V1168.87H1609.74V1124.03H1611.99V1140.84H1614.23V1174.47H1616.47V1157.65H1618.72V1168.87H1620.96V1157.65H1623.2V1168.87H1625.44V1163.26H1627.69V1090.39H1629.93V1185.68H1632.17V1135.24H1634.42V1124.03H1636.66V1067.97H1638.9V1067.97H1641.15V1168.87H1643.39V1157.65H1645.63V1152.05H1647.87V1157.65H1650.12V1168.87H1652.36V1135.24H1654.6V1118.42H1656.85V1034.35H1659.09V1140.84H1661.33V1174.47H1663.58V1146.44H1665.82V1180.08H1668.06V1241.73H1670.31V1236.12H1672.55V1236.12H1674.79V1224.91H1677.03V1320.2ZM1851.99,1320.2V1219.31H1854.24V1208.1H1856.48V1219.31H1858.72V1219.31H1860.97V1219.31H1863.21V1219.31H1865.45V1219.31H1867.69V1219.31H1869.94V1219.31H1872.18V1208.1H1874.42V1129.63H1876.67V1090.39H1878.91V1090.39H1881.15V1185.68H1883.4V1034.35H1885.64V1017.53H1887.88V1168.87H1890.12V1174.47H1892.37V978.3H1894.61V1152.05H1896.85V1157.65H1899.1V849.38H1901.34V1112.82H1903.58V1208.1H1905.83V1202.5H1908.07V1157.65H1910.31V1202.5H1912.56V1180.08H1914.8V1208.1H1917.04V1208.1H1919.28V905.43H1921.53V983.9H1923.77V1051.16H1926.01V1196.89H1928.26V1157.65H1930.5V899.83H1932.74V1157.65H1934.99V1202.5H1937.23V1191.29H1939.47V1140.84H1941.72V1073.58H1943.96V1006.32H1946.2V1051.16H1948.44V1146.44H1950.69V972.69H1952.93V1157.65H1955.17V1174.47H1957.42V1023.13H1959.66V1157.65H1961.9V1196.89H1964.15V1208.1H1966.39V1124.03H1968.63V1168.87H1970.87V1202.5H1973.12V1185.68H1975.36V1067.97H1977.6V1135.24H1979.85V1185.68H1982.09V1185.68H1984.33V1191.29H1986.58V1219.31H1988.82V1224.91H1991.06V1241.73H1993.31V1252.94H1995.55V1264.15H1997.79V1264.15H2000.03V1320.2Z" fill="#239171"/><rect x="2416.3" y="819.75" width="11" height="502.45" fill="url(#shR)"/><rect x="158.3" y="1321.2" width="2258" height="9" fill="url(#shB)"/><line x1="154.8" y1="815.75" x2="154.8" y2="1321.2" stroke="#6b6b6b" stroke-width="1.5"/><line x1="155.3" y1="1321.2" x2="2416.3" y2="1321.2" stroke="#6b6b6b" stroke-width="1.5"/><g stroke="#bdbdbd" stroke-width="1.3"><line x1="155.3" y1="1321.7" x2="155.3" y2="1332"/><line x1="478.3" y1="1321.7" x2="478.3" y2="1332"/><line x1="801.3" y1="1321.7" x2="801.3" y2="1332"/><line x1="1124.3" y1="1321.7" x2="1124.3" y2="1332"/><line x1="1447.3" y1="1321.7" x2="1447.3" y2="1332"/><line x1="1770.3" y1="1321.7" x2="1770.3" y2="1332"/><line x1="2093.3" y1="1321.7" x2="2093.3" y2="1332"/><line x1="2416.3" y1="1321.7" x2="2416.3" y2="1332"/></g><g stroke="#8c8c8c" stroke-width="1"><line x1="144" y1="1320.5" x2="154.3" y2="1320.5"/><line x1="144" y1="1264.5" x2="154.3" y2="1264.5"/><line x1="144" y1="1208.5" x2="154.3" y2="1208.5"/><line x1="144" y1="1152.5" x2="154.3" y2="1152.5"/><line x1="144" y1="1096.5" x2="154.3" y2="1096.5"/><line x1="144" y1="1040.5" x2="154.3" y2="1040.5"/><line x1="144" y1="984.5" x2="154.3" y2="984.5"/><line x1="144" y1="928.5" x2="154.3" y2="928.5"/><line x1="144" y1="872.5" x2="154.3" y2="872.5"/><line x1="144" y1="816.5" x2="154.3" y2="816.5"/></g><g font-family="DejaVu Sans, sans-serif" font-size="20.4" fill="#333" stroke="#333" stroke-width="0.3" text-anchor="end"><text x="133.6" y="1327.6">0</text><text x="133.6" y="1271.55">10</text><text x="133.6" y="1215.5">20</text><text x="133.6" y="1159.45">30</text><text x="133.6" y="1103.4">40</text><text x="133.6" y="1047.35">50</text><text x="133.6" y="991.3">60</text><text x="133.6" y="935.25">70</text><text x="133.6" y="879.2">80</text><text x="133.6" y="823.15">90</text></g><g font-family="DejaVu Sans, sans-serif" font-size="20" fill="#000" stroke="#000" stroke-width="0.3" text-anchor="middle" style="white-space:pre"><text x="155.3" y="1357">dim. 25</text><text x="478.3" y="1357">lun. 26</text><text x="801.3" y="1357">mar. 27</text><text x="1124.3" y="1357">mer. 28</text><text x="1447.3" y="1357">jeu. 29</text><text x="1770.3" y="1357">ven. 30</text><text x="2093.3" y="1357">sam. 31</text></g><text transform="translate(86,1068) rotate(-90)" font-family="DejaVu Sans, sans-serif" font-stretch="condensed" font-size="22.1" fill="#444" stroke="#444" stroke-width="0.4" text-anchor="middle" textLength="31.2" lengthAdjust="spacingAndGlyphs">kW</text><rect x="1990" y="58" width="415.5" height="39.7" rx="7" fill="#ffffff"/><text x="2198" y="89" font-family="DejaVu Sans, sans-serif" font-weight="bold" font-stretch="condensed" font-size="24.1" fill="#000" text-anchor="middle" textLength="170.9" lengthAdjust="spacingAndGlyphs">LHB-site-L647</text><rect x="1992.2" y="108.9" width="411.6" height="56.2" rx="10" fill="#ffffff" stroke="#7b7b7b" stroke-width="3.4"/><text x="2207.5" y="148" font-family="DejaVu Sans, sans-serif" font-stretch="condensed" font-size="27.3" fill="#000" text-anchor="middle" stroke="#000" stroke-width="0.35" word-spacing="1" textLength="312.3" lengthAdjust="spacingAndGlyphs" style="white-space:pre">Consommation: 308 kWh</text><rect x="1992.2" y="178.6" width="411.6" height="55.7" rx="10" fill="#ffffff" stroke="#7b7b7b" stroke-width="3.4"/><text x="2208" y="217.45" font-family="DejaVu Sans, sans-serif" font-stretch="condensed" font-size="27.3" fill="#000" text-anchor="middle" stroke="#000" stroke-width="0.35" word-spacing="1" textLength="187.6" lengthAdjust="spacingAndGlyphs" style="white-space:pre">P Max :  16 kW</text><rect x="1992.2" y="248.2" width="411.6" height="56.7" rx="10" fill="#ffffff" stroke="#7b7b7b" stroke-width="3.4"/><text x="2208" y="287.55" font-family="DejaVu Sans, sans-serif" font-stretch="condensed" font-size="27.3" fill="#000" text-anchor="middle" stroke="#000" stroke-width="0.35" word-spacing="1" textLength="158.7" lengthAdjust="spacingAndGlyphs" style="white-space:pre">P min : 9 kW</text><rect x="1048.2" y="542.5" width="521.9" height="69.7" rx="10" fill="#ffffff" fill-opacity="0.9"/><text x="1314" y="588.5" font-family="DejaVu Sans, sans-serif" font-weight="bold" font-stretch="condensed" font-size="29.8" fill="#111" text-anchor="middle" textLength="352.9" lengthAdjust="spacingAndGlyphs">samedi 31 janvier 2026</text><rect x="562.2" y="806.6" width="411.1" height="56.8" rx="10" fill="#ffffff" stroke="#7b7b7b" stroke-width="3.4"/><text x="778" y="846" font-family="DejaVu Sans, sans-serif" font-stretch="condensed" font-size="27.3" fill="#000" text-anchor="middle" stroke="#000" stroke-width="0.35" word-spacing="1" textLength="336.7" lengthAdjust="spacingAndGlyphs" style="white-space:pre">Consommation: 3 353 kWh</text><rect x="1100" y="807.3" width="410.9" height="56.4" rx="10" fill="#ffffff" stroke="#7b7b7b" stroke-width="3.4"/><text x="1316" y="846.5" font-family="DejaVu Sans, sans-serif" font-stretch="condensed" font-size="27.3" fill="#000" text-anchor="middle" stroke="#000" stroke-width="0.35" word-spacing="1" textLength="187.6" lengthAdjust="spacingAndGlyphs" style="white-space:pre">P Max :  86 kW</text><rect x="1610.8" y="806.7" width="410.1" height="56.6" rx="10" fill="#ffffff" stroke="#7b7b7b" stroke-width="3.4"/><text x="1826" y="846" font-family="DejaVu Sans, sans-serif" font-stretch="condensed" font-size="27.3" fill="#000" text-anchor="middle" stroke="#000" stroke-width="0.35" word-spacing="1" textLength="158.7" lengthAdjust="spacingAndGlyphs" style="white-space:pre">P min : 5 kW</text><g><rect x="170.8" y="136.9" width="487.9" height="120" fill="none" stroke="#d9d9d9" stroke-width="3"/><rect x="169.3" y="189.2" width="491" height="5" fill="#d9d9d9"/><rect x="289.0" y="136" width="5.5" height="122" fill="#d9d9d9"/><rect x="411.3" y="136" width="5.5" height="122" fill="#d9d9d9"/><rect x="532.8" y="136" width="5.5" height="122" fill="#d9d9d9"/><rect x="655.4" y="136" width="4.8" height="122" fill="#d9d9d9"/><rect x="169.3" y="252.5" width="491" height="5.5" fill="#d9d9d9"/><g transform="translate(180.2,195.2)"><rect x="0" y="0" width="105.8" height="55.5" fill="url(#sig)"/><path d="M12.7,0 L25.6,0 C45,9 60,13 75,12.5 C88,12 98,8 105.8,4.3 L105.8,16.5 C96,21 86,25 72,24.8 C52,24 30,12 12.7,0Z" fill="#00f0cc"/><path d="M25.6,0 L105.8,0 L105.8,4.3 C98,8 88,12 75,12.5 C60,13 45,9 25.6,0Z" fill="#00a68a"/></g><g transform="translate(301.9,196.2)"><rect x="0" y="0" width="105.8" height="55.5" fill="url(#sig)"/><path d="M12.7,0 L25.6,0 C45,9 60,13 75,12.5 C88,12 98,8 105.8,4.3 L105.8,16.5 C96,21 86,25 72,24.8 C52,24 30,12 12.7,0Z" fill="#00f0cc"/><path d="M25.6,0 L105.8,0 L105.8,4.3 C98,8 88,12 75,12.5 C60,13 45,9 25.6,0Z" fill="#00a68a"/></g><g transform="translate(423.9,196.0)"><rect x="0" y="0" width="105.8" height="55.5" fill="url(#sig)"/><path d="M12.7,0 L25.6,0 C45,9 60,13 75,12.5 C88,12 98,8 105.8,4.3 L105.8,16.5 C96,21 86,25 72,24.8 C52,24 30,12 12.7,0Z" fill="#00f0cc"/><path d="M25.6,0 L105.8,0 L105.8,4.3 C98,8 88,12 75,12.5 C60,13 45,9 25.6,0Z" fill="#00a68a"/></g><g transform="translate(544.1,196.0)"><rect x="0" y="0" width="105.8" height="55.5" fill="url(#sig)"/><path d="M12.7,0 L25.6,0 C45,9 60,13 75,12.5 C88,12 98,8 105.8,4.3 L105.8,16.5 C96,21 86,25 72,24.8 C52,24 30,12 12.7,0Z" fill="#00f0cc"/><path d="M25.6,0 L105.8,0 L105.8,4.3 C98,8 88,12 75,12.5 C60,13 45,9 25.6,0Z" fill="#00a68a"/></g></g><g font-family="Liberation Sans, Arial, sans-serif" font-size="33" fill="#000"><text x="222" y="174.5" stroke="#000" stroke-width="0.4">J</text><text x="312" y="174.5" stroke="#000" stroke-width="0.4">J</text><text x="345.5" y="174.5">+</text><text x="379" y="174.5">1</text><text x="435" y="174.5" stroke="#000" stroke-width="0.4">J</text><text x="467.5" y="174.5">+</text><text x="499" y="174.5" font-weight="bold">2</text><text x="556.5" y="174.5" stroke="#000" stroke-width="0.4">J</text><text x="589.5" y="174.5">+</text><text x="621.5" y="174.5" font-weight="bold">3</text></g><rect x="176.5" y="49.2" width="481.5" height="77.8" fill="#0b0b19"/><text x="188.4" y="109.7" font-family="DejaVu Sans, sans-serif" font-weight="bold" font-size="52" fill="url(#eco)" textLength="82" lengthAdjust="spacingAndGlyphs">éco</text><text x="272" y="109.7" font-family="Liberation Sans, Arial, sans-serif" font-weight="bold" font-size="55" fill="#ffffff" textLength="32" lengthAdjust="spacingAndGlyphs">w</text><line x1="300.5" y1="106.5" x2="316" y2="67.5" stroke="#ffffff" stroke-width="7.5" stroke-linecap="round"/><text x="311.5" y="109.7" font-family="Liberation Sans, Arial, sans-serif" font-weight="bold" font-size="55" fill="#ffffff" textLength="62" lengthAdjust="spacingAndGlyphs">att</text><ellipse cx="433.8" cy="88.8" rx="26" ry="28" fill="#00b2e3"/><text x="434.5" y="96.5" font-family="Liberation Sans, Arial, sans-serif" font-size="21" fill="#ffffff" text-anchor="middle" textLength="32" lengthAdjust="spacingAndGlyphs">Rte</text><line x1="426" y1="88.8" x2="445" y2="88.8" stroke="#ffffff" stroke-width="1.5"/><g font-family="Liberation Sans, Arial, sans-serif" font-weight="bold" font-size="12.5" fill="#0098cf"><text x="468.6" y="80" textLength="47.5" lengthAdjust="spacingAndGlyphs">Le réseau</text><text x="468.6" y="93" textLength="60.7" lengthAdjust="spacingAndGlyphs">de transport</text><text x="468.6" y="106.5" textLength="56.5" lengthAdjust="spacingAndGlyphs">d’électricité</text></g><rect x="546.2" y="61.4" width="100.8" height="55.9" fill="#ffffff"/><rect x="553" y="68.7" width="6.5" height="7" fill="#000091"/><rect x="559.5" y="68.7" width="6" height="7" fill="#ffffff"/><rect x="565.5" y="68.7" width="6.5" height="7" fill="#e1000f"/><g font-family="Liberation Sans, Arial, sans-serif" font-weight="bold" font-size="6.8" fill="#222"><text x="552.5" y="84">RÉPUBLIQUE</text><text x="552.5" y="92">FRANÇAISE</text></g><g font-family="Liberation Sans, Arial, sans-serif" font-style="italic" font-size="3.6" fill="#555"><text x="553" y="99">Liberté</text><text x="553" y="103.5">Égalité</text><text x="553" y="108">Fraternité</text></g><rect x="607.4" y="66.6" width="34.3" height="45" fill="#ffffff" stroke="#4d7cc8" stroke-width="1"/><text x="624.6" y="74.5" font-family="Liberation Sans, Arial, sans-serif" font-weight="bold" font-size="6.2" fill="#e2001a" text-anchor="middle" letter-spacing="0.6">ADEME</text><circle cx="624.6" cy="86.5" r="8.3" fill="#2d5fb3"/><g font-family="Liberation Sans, Arial, sans-serif" font-weight="bold" font-size="2.8" fill="#e2001a" text-anchor="middle"><text x="624.6" y="100.5">AGENCE DE LA</text><text x="624.6" y="104">TRANSITION</text><text x="624.6" y="107.5">ÉCOLOGIQUE</text></g><rect x="2322.3" y="1322.2" width="115.5" height="56.1" fill="#ffffff"/><text x="2332.5" y="1363.6" font-family="Liberation Sans, Arial, sans-serif" font-weight="bold" font-size="41" fill="#1170b8" textLength="54" lengthAdjust="spacingAndGlyphs">G2</text><polygon points="2392.2,1324.5 2383.5,1337.8 2393,1338.8 2389.5,1363.6 2400,1338.3 2391.3,1337.2" fill="#e85a28"/><polygon points="2404,1338.8 2424,1338.8 2418.5,1345 2400.5,1345" fill="#f39020"/><polygon points="2400,1348 2418,1348 2412.5,1354 2396.8,1354" fill="#f39020"/><polygon points="2396,1357.2 2416.6,1357.2 2411,1363.3 2392.7,1363.3" fill="#f39020"/><text x="2393.6" y="1335" font-family="Liberation Sans, Arial, sans-serif" font-weight="bold" font-size="7" fill="#e85a28" textLength="30.4" lengthAdjust="spacingAndGlyphs">FRANCE</text><text x="2339.8" y="1368.3" font-family="Liberation Sans, Arial, sans-serif" font-size="3.4" fill="#3a7cc0" textLength="74" lengthAdjust="spacingAndGlyphs">Optimisation des ressources énergétiques</text></svg>
</body></html>
